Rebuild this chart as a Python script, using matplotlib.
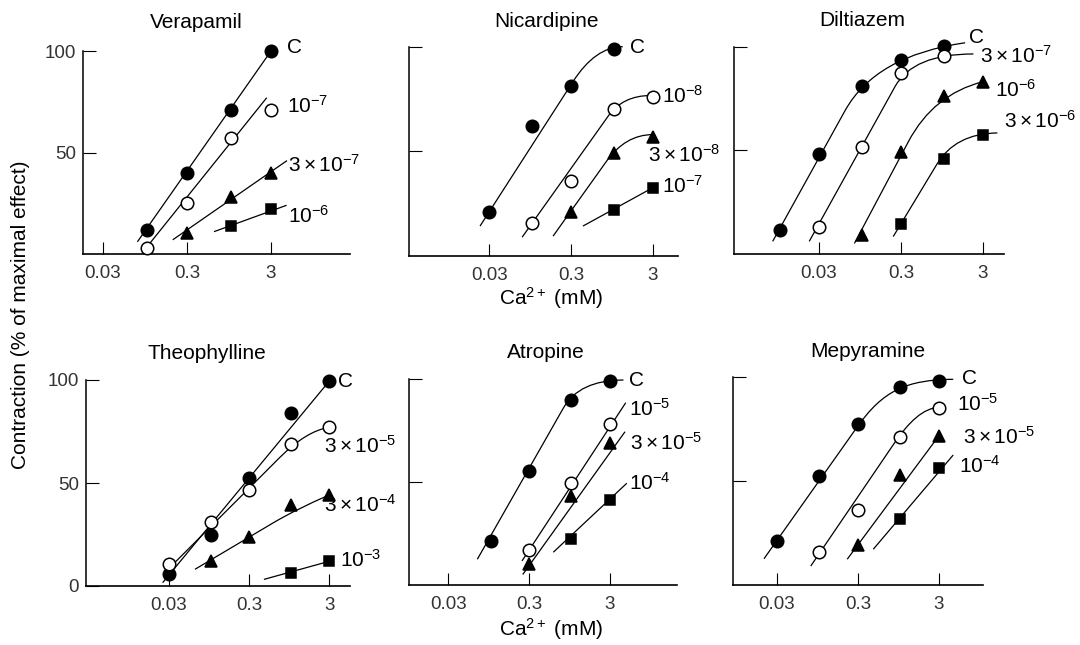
import matplotlib.pyplot as plt
from matplotlib.path import Path
from matplotlib.patches import PathPatch
from matplotlib.ticker import NullLocator

plt.rcParams['font.family'] = ['Liberation Sans', 'DejaVu Sans']
plt.rcParams['mathtext.fontset'] = 'custom'
plt.rcParams['mathtext.rm'] = 'Liberation Sans'
plt.rcParams['mathtext.it'] = 'Liberation Sans:italic'
plt.rcParams['mathtext.bf'] = 'Liberation Sans:bold'

# -----------------------------
# Data
# series order in every panel: control (filled circle), open circle, triangle, square
# fit lists: 2 points = straight line, 4 = line + quadratic bend, 5 = line + cubic bend
# -----------------------------

# Verapamil
ver_x = [[0.1, 0.3, 1, 3], [0.1, 0.3, 1, 3], [0.3, 1, 3], [1, 3]]
ver_y = [[12, 40, 71, 100], [3, 25, 57, 71], [10.5, 28, 40], [14, 22]]
ver_fit_x = [[0.077, 3], [0.107, 2.67], [0.203, 4.65], [0.629, 4.6]]
ver_fit_y = [[6, 100], [5, 77], [7, 46], [11, 24]]
ver_labels = ['C', r'$10^{-7}$', r'$3\times10^{-7}$', r'$10^{-6}$']

# Nicardipine
nic_x = [[0.03, 0.1, 0.3, 1], [0.1, 0.3, 1, 3], [0.3, 1, 3], [1, 3]]
nic_y = [[21, 62, 81, 99], [16, 36, 70, 76], [21, 49, 57], [22, 32.6]]
nic_fit_x = [[0.0231, 0.317, 0.597, 1.29], [0.0757, 0.851, 1.28, 2.87],
             [0.181, 0.81, 1.39, 3], [0.42, 3]]
nic_fit_y = [[14.3, 83.3, 100, 100], [9, 66.7, 76.7, 76.7],
             [9.5, 45.1, 58, 58], [14.3, 32.6]]
nic_labels = ['C', r'$10^{-8}$', r'$3\times10^{-8}$', r'$10^{-7}$']

# Diltiazem
dil_x = [[0.01, 0.03, 0.1, 0.3, 1], [0.03, 0.1, 0.3, 1], [0.1, 0.3, 1, 3], [0.3, 1, 3]]
dil_y = [[11.5, 48, 81, 93.6, 100.5], [13.2, 51.6, 87.1, 95.6], [9, 49, 76, 83], [14.5, 46, 57.6]]
dil_fit_x = [[0.00815, 0.0623, 0.147, 1.83], [0.0228, 0.255, 0.423, 2.31],
             [0.0812, 0.372, 0.75, 3], [0.242, 0.824, 1.38, 4.53]]
dil_fit_y = [[6.1, 69.1, 95.7, 101.9], [6.1, 80.8, 96.5, 96.5],
             [5.1, 54.3, 77, 83.1], [8.4, 43.2, 58.1, 58.4]]
dil_labels = ['C', r'$3\times10^{-7}$', r'$10^{-6}$', r'$3\times10^{-6}$']

# Theophylline
the_x = [[0.03, 0.1, 0.3, 1, 3], [0.03, 0.1, 0.3, 1, 3], [0.1, 0.3, 1, 3], [1, 3]]
the_y = [[5.8, 25, 52.3, 84, 99.5], [10.7, 31.2, 46.6, 68.9, 77], [12.1, 23.9, 39.3, 44.2], [6.2, 12]]
the_fit_x = [[0.0252, 3], [0.0257, 0.73, 1.57, 3], [0.0637, 0.603, 1.18, 3], [0.46, 3]]
the_fit_y = [[1.6, 99.5], [5.8, 62.5, 75.4, 77], [8.1, 30.7, 37.4, 44.2], [3.2, 12]]
the_labels = ['C', r'$3\times10^{-5}$', r'$3\times10^{-4}$', r'$10^{-3}$']

# Atropine
atr_x = [[0.1, 0.3, 1, 3], [0.3, 1, 3], [0.3, 1, 3], [1, 3]]
atr_y = [[21.2, 55.3, 90, 99.2], [17, 49.3, 78.2], [10, 43.2, 69.1], [22.3, 41.5]]
atr_fit_x = [[0.0686, 0.795, 1.25, 4.4], [0.245, 4.7], [0.25, 4.6], [0.597, 4.84]]
atr_fit_y = [[12.5, 85.9, 99.5, 99.5], [11.7, 88.5], [5.1, 74.4], [15.9, 49.4]]
atr_labels = ['C', r'$10^{-5}$', r'$3\times10^{-5}$', r'$10^{-4}$']

# Mepyramine
mep_x = [[0.03, 0.1, 0.3, 1, 3], [0.1, 0.3, 1, 3], [0.3, 1, 3], [1, 3]]
mep_y = [[21.3, 52.5, 77.2, 95, 98.2], [16, 36.1, 71.3, 85.2], [19.2, 52.9, 71.8], [31.7, 56.4]]
mep_fit_x = [[0.0209, 0.29, 0.616, 1.2, 4.49], [0.0788, 0.852, 1.25, 1.92, 3.08],
             [0.222, 3], [0.465, 4.49]]
mep_fit_y = [[12.6, 75.6, 93.8, 98.6, 98.9], [9.1, 68.4, 77.9, 85.4, 85.4],
             [12.4, 71.8], [17.2, 62.5]]
mep_labels = ['C', r'$10^{-5}$', r'$3\times10^{-5}$', r'$10^{-4}$']

titles = ['Verapamil', 'Nicardipine', 'Diltiazem', 'Theophylline', 'Atropine', 'Mepyramine']
x_ticks = [0.03, 0.3, 3]
x_ticklabels = ['0.03', '0.3', '3']

panels = [
    (ver_x, ver_y, ver_fit_x, ver_fit_y, ver_labels),
    (nic_x, nic_y, nic_fit_x, nic_fit_y, nic_labels),
    (dil_x, dil_y, dil_fit_x, dil_fit_y, dil_labels),
    (the_x, the_y, the_fit_x, the_fit_y, the_labels),
    (atr_x, atr_y, atr_fit_x, atr_fit_y, atr_labels),
    (mep_x, mep_y, mep_fit_x, mep_fit_y, mep_labels),
]

# -----------------------------
# Layout (pixels in a 1080x645 canvas)
# -----------------------------
W, H = 1080, 645
# left, right, px of 0.03, px of 3, px of y=0, px of y=100
boxes = [(83, 350, 103, 271, 254, 51),
         (409, 678, 489.3, 652.7, 256, 46.7),
         (734, 1004, 819, 982.7, 254, 46.7),
         (86, 350, 168.7, 329.3, 586, 380),
         (409, 677, 448.3, 610, 585, 379),
         (733, 983, 776.7, 939, 585, 377)]
title_pos = [(196, 28), (546, 27), (862, 26), (207, 359), (546, 358), (868, 357)]
label_pos = [[(287, 53), (287, 113), (288, 172), (288, 223)],
             [(630, 53), (662, 103), (648, 162), (662, 193)],
             [(969, 43), (980, 63), (995, 97), (1004, 128)],
             [(338, 387), (324, 453), (324, 512), (340, 567)],
             [(629, 386), (629, 416), (630, 450), (629, 490)],
             [(962, 384), (957, 411), (963, 444), (959, 473)]]
ytick_sets = [([50, 100], ['50', '100']), ([50, 100], ['', '']), ([50, 100], ['', '']),
              ([0, 50, 100], ['0', '50', '100']), ([50, 100], ['', '']), ([50, 100], ['', ''])]

styles = [dict(marker='o', mfc='black', ms=9),
          dict(marker='o', mfc='white', ms=9),
          dict(marker='^', mfc='black', ms=8.5),
          dict(marker='s', mfc='black', ms=7.5)]


def fx(px):
    return px / W


def fy(py):
    return 1 - py / H


def draw_fit(ax, xs, ys):
    pts = list(zip(xs, ys))
    if len(pts) == 2:
        codes = [Path.MOVETO, Path.LINETO]
    elif len(pts) == 4:
        codes = [Path.MOVETO, Path.LINETO, Path.CURVE3, Path.CURVE3]
    else:
        codes = [Path.MOVETO, Path.LINETO, Path.CURVE4, Path.CURVE4, Path.CURVE4]
    ax.add_patch(PathPatch(Path(pts, codes), fill=False, ec='black', lw=0.9,
                           transform=ax.transData, clip_on=False, zorder=2))


fig = plt.figure(figsize=(W / 100, H / 100), dpi=100)

for i, (xs, ys, fit_x, fit_y, labels) in enumerate(panels):
    left, right, p003, p3, p0, p100 = boxes[i]
    ax = fig.add_axes([fx(left), fy(p0), (right - left) / W, (p0 - p100) / H])
    ax.set_xscale('log')
    dec = (p3 - p003) / 2
    ax.set_xlim(0.03 * 10 ** ((left - p003) / dec), 0.03 * 10 ** ((right - p003) / dec))
    ax.set_ylim(0, 100)
    ax.patch.set_alpha(0)

    for k in range(len(xs)):
        draw_fit(ax, fit_x[k], fit_y[k])
        ax.plot(xs[k], ys[k], ls='none', mec='black', mew=1.1, clip_on=False,
                zorder=3, **styles[k])
        fig.text(fx(label_pos[i][k][0]), fy(label_pos[i][k][1]), labels[k],
                 fontsize=15, ha='left', va='baseline')

    ax.spines['top'].set_visible(False)
    ax.spines['right'].set_visible(False)
    ax.spines['left'].set_linewidth(1.1)
    ax.spines['bottom'].set_linewidth(1.2)
    ax.set_xticks(x_ticks)
    ax.set_xticklabels(x_ticklabels)
    ax.xaxis.set_minor_locator(NullLocator())
    ax.set_yticks(ytick_sets[i][0])
    ax.set_yticklabels(ytick_sets[i][1])
    ax.tick_params(axis='x', direction='in', length=9, width=0.8, labelsize=13.5,
                   pad=8, labelcolor='#333333')
    ax.tick_params(axis='y', direction='in', length=9, width=0.8, labelsize=13.5,
                   pad=5, labelcolor='#333333')

    fig.text(fx(title_pos[i][0]), fy(title_pos[i][1]), titles[i], fontsize=15,
             ha='center', va='baseline')

# axis titles
fig.text(fx(551), fy(305), r'Ca$^{2+}$ (mM)', fontsize=15, ha='center', va='baseline')
fig.text(fx(551), fy(636), r'Ca$^{2+}$ (mM)', fontsize=15, ha='center', va='baseline')
fig.text(fx(21), fy(315), 'Contraction (% of maximal effect)', fontsize=15,
         rotation=90, ha='center', va='center')

fig.savefig('out.png', dpi=100)
